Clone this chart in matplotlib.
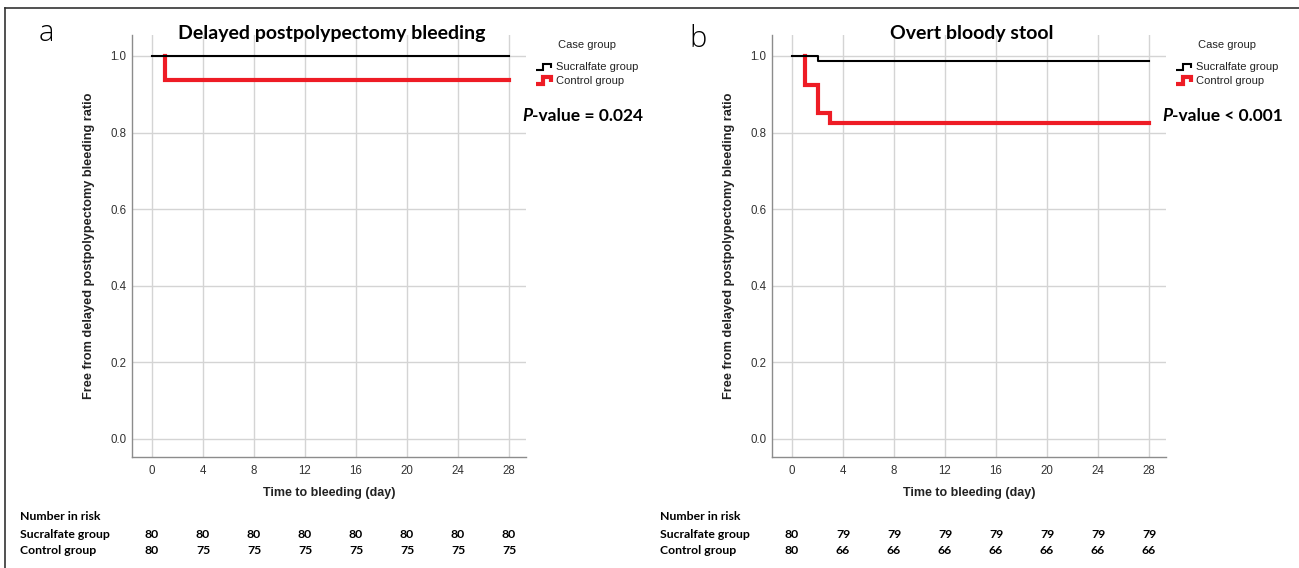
import matplotlib
matplotlib.use("Agg")
import matplotlib.pyplot as plt
from matplotlib.legend_handler import HandlerBase
from matplotlib.lines import Line2D
import matplotlib.transforms as mtransforms

# ---------------- data ----------------
day_ticks = [0, 4, 8, 12, 16, 20, 24, 28]
y_ticks = [0.0, 0.2, 0.4, 0.6, 0.8, 1.0]

# Panel a: Delayed postpolypectomy bleeding (Kaplan-Meier steps)
a_suc_t = [0, 28]
a_suc_s = [1.0, 1.0]
a_ctl_t = [0, 1, 28]
a_ctl_s = [1.0, 0.9375, 0.9375]

# Panel b: Overt bloody stool
b_suc_t = [0, 2, 28]
b_suc_s = [1.0, 0.9875, 0.9875]
b_ctl_t = [0, 1, 2, 3, 28]
b_ctl_s = [1.0, 0.925, 0.85, 0.825, 0.825]

# Number in risk
a_risk_suc = [80, 80, 80, 80, 80, 80, 80, 80]
a_risk_ctl = [80, 75, 75, 75, 75, 75, 75, 75]
b_risk_suc = [80, 79, 79, 79, 79, 79, 79, 79]
b_risk_ctl = [80, 66, 66, 66, 66, 66, 66, 66]

titles = ["Delayed postpolypectomy bleeding", "Overt bloody stool"]
panel_letters = ["a", "b"]
pvalues = ["-value = 0.024", "-value < 0.001"]
group_names = ["Sucralfate group", "Control group"]
ylabel = "Free from delayed postpolypectomy bleeding ratio"
xlabel = "Time to bleeding (day)"

# ---------------- layout ----------------
W, H = 1299, 568
fig = plt.figure(figsize=(W / 100, H / 100), dpi=100)

def fx(px):
    return px / W

def fy(py):
    return 1 - py / H

RED = "#ee1c25"
GRID = "#d4d4d4"
SPINE = "#8c8c8c"
TXT = "#222222"

class StepHandler(HandlerBase):
    def create_artists(self, legend, orig_handle, xdescent, ydescent,
                       width, height, fontsize, trans):
        x0 = -xdescent
        y0 = -ydescent
        xs = [x0, x0 + 0.45 * width, x0 + 0.45 * width, x0 + 0.92 * width, x0 + 0.92 * width]
        ys = [y0 + 0.1 * height, y0 + 0.1 * height, y0 + 0.9 * height,
              y0 + 0.9 * height, y0 + 0.35 * height]
        ln = Line2D(xs, ys, color=orig_handle.get_color(),
                    lw=orig_handle.get_linewidth(), solid_joinstyle="miter",
                    solid_capstyle="butt")
        ln.set_transform(trans)
        return [ln]

panels = [
    dict(left=132, curves=[(a_suc_t, a_suc_s), (a_ctl_t, a_ctl_s)],
         risk=[a_risk_suc, a_risk_ctl], table_x=20, letter_xy=(39, 33)),
    dict(left=772, curves=[(b_suc_t, b_suc_s), (b_ctl_t, b_ctl_s)],
         risk=[b_risk_suc, b_risk_ctl], table_x=660, letter_xy=(689, 39)),
]

ax_w = 394
ax_top, ax_bot = 35, 457

for i, p in enumerate(panels):
    left = p["left"]
    ax = fig.add_axes([fx(left), fy(ax_bot), fx(ax_w), (ax_bot - ax_top) / H])
    ax.set_xlim(-1.57, 29.33)
    ax.set_ylim(-0.047, 1.0548)
    ax.set_xticks(day_ticks)
    ax.set_yticks(y_ticks)
    ax.set_yticklabels([f"{v:.1f}" for v in y_ticks])
    ax.grid(True, color=GRID, lw=1.0)
    ax.set_axisbelow(True)
    for s in ["top", "right"]:
        ax.spines[s].set_visible(False)
    for s in ["left", "bottom"]:
        ax.spines[s].set_color(SPINE)
        ax.spines[s].set_linewidth(1.0)
    ax.tick_params(length=0, labelsize=8.3, labelcolor="#333333")
    ax.tick_params(axis="y", pad=4)
    ax.tick_params(axis="x", pad=6)
    for lab in ax.get_xticklabels() + ax.get_yticklabels():
        lab.set_fontfamily("Liberation Sans")

    (st, ss), (ct, cs) = p["curves"]
    # red curve: the part at 1.0 before the first event is covered by the black curve
    red_x = [ct[1]] + list(ct[1:])
    red_y = [cs[0]] + list(cs[1:])
    h2, = ax.step(red_x, red_y, where="post", color=RED, lw=3.0,
                  label=group_names[1], solid_joinstyle="miter", zorder=2)
    h1, = ax.step(st, ss, where="post", color="black", lw=1.5, label=group_names[0],
                  zorder=3)

    ax.set_ylabel(ylabel, fontsize=9.2, fontweight="bold", family="Liberation Sans",
                  color=TXT)
    ax.yaxis.set_label_coords(-37 / ax_w, 0.5)
    ax.set_xlabel(xlabel, fontsize=9, fontweight="bold", family="Liberation Sans",
                  color=TXT, va="center")
    ax.xaxis.set_label_coords(0.5, -(493 - ax_bot) / (ax_bot - ax_top))

    leg = ax.legend(handles=[h1, h2], title="Case group",
                    handler_map={Line2D: StepHandler()},
                    loc="upper left",
                    bbox_to_anchor=(fx(left + 404), fy(40)),
                    bbox_transform=fig.transFigure,
                    frameon=False,
                    prop={"family": "Liberation Sans", "size": 8},
                    title_fontsize=8,
                    handlelength=1.45, handletextpad=0.35, labelspacing=0.35,
                    borderaxespad=0, borderpad=0)
    leg.get_title().set_fontfamily("Liberation Sans")
    leg.get_title().set_color(TXT)
    leg._legend_box.sep = 9
    for t in leg.get_texts():
        t.set_color(TXT)

    # title
    fig.text(fx(left + 200), fy(33), titles[i], ha="center", va="center",
             fontsize=14, fontweight="bold", family="Lato", color="black")
    # panel letter
    lx, ly = p["letter_xy"]
    fig.text(fx(lx), fy(ly), panel_letters[i], ha="left", va="center",
             fontsize=21, fontweight="light", family=["Open Sans", "DejaVu Sans"],
             color="black")

    # p-value
    tp = fig.text(fx(left + 390), fy(116), "P", ha="left", va="center",
                  fontsize=12.5, fontweight="bold", fontstyle="italic",
                  family="Lato", color="black")
    ax.annotate(pvalues[i], xy=(1, 0), xycoords=tp, ha="left", va="bottom",
                fontsize=12.5, fontweight="bold", family="Lato", color="black",
                annotation_clip=False)

    # number at risk table
    tx = p["table_x"]
    fig.text(fx(tx), fy(517), "Number in risk", ha="left", va="center",
             fontsize=8.8, fontweight="bold", family="Lato", color="black")
    fig.text(fx(tx), fy(534), group_names[0], ha="left", va="center",
             fontsize=8.8, fontweight="bold", family="Lato", color="black")
    fig.text(fx(tx), fy(551), group_names[1], ha="left", va="center",
             fontsize=8.8, fontweight="bold", family="Lato", color="black")
    blend = mtransforms.blended_transform_factory(ax.transData, fig.transFigure)
    for row_y, vals in zip([534, 551], p["risk"]):
        for d, v in zip(day_ticks, vals):
            ax.text(d, fy(row_y), str(v), transform=blend, ha="center", va="center",
                    fontsize=8.8, fontweight="bold", family="Lato", color="black",
                    clip_on=False)

# outer frame (top and left edges visible in reference)
fig.add_artist(Line2D([fx(5), 1], [fy(8), fy(8)], transform=fig.transFigure,
                      color="#333333", lw=1.2))
fig.add_artist(Line2D([fx(5), fx(5)], [fy(8), 0], transform=fig.transFigure,
                      color="#333333", lw=1.2))

fig.savefig("out.png", dpi=100, facecolor="white")
